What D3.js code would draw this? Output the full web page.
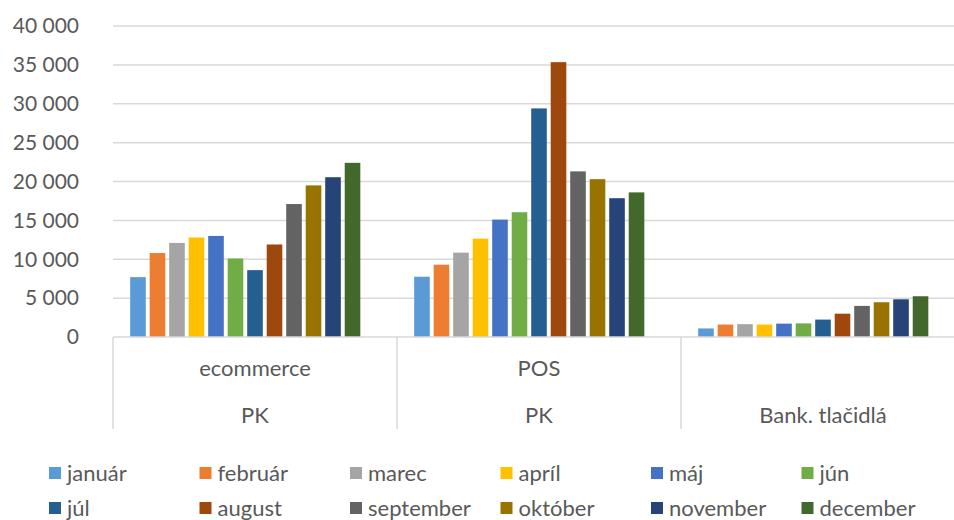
<!DOCTYPE html>
<meta charset="utf-8">
<style>
html, body { margin: 0; padding: 0; background: #fff; overflow: hidden; }
svg { display: block; }
text { font-family: Lato, "Open Sans", sans-serif; fill: #595959; }
</style>
<svg width="954" height="520"></svg>
<script src="https://cdn.jsdelivr.net/npm/d3@7"></script>
<script>
// data
var months = ["január", "február", "marec", "apríl", "máj", "jún",
              "júl", "august", "september", "október", "november", "december"];
var groups = ["ecommerce|PK", "POS|PK", "|Bank. tlačidlá"];
var groupTop = ["ecommerce", "POS", ""];
var groupBottom = ["PK", "PK", "Bank. tlačidlá"];
var ecommerce = [7700, 10800, 12100, 12800, 13000, 10100, 8600, 11900, 17100, 19500, 20550, 22400];
var pos = [7750, 9300, 10850, 12650, 15100, 16050, 29400, 35350, 21300, 20300, 17850, 18600];
var bank = [1100, 1600, 1650, 1600, 1720, 1750, 2240, 3000, 4000, 4470, 4850, 5240];
var colors = ["#5B9BD5", "#ED7D31", "#A5A5A5", "#FFC000", "#4472C4", "#70AD47",
              "#255E91", "#9E480E", "#636363", "#997300", "#264478", "#43682B"];
var yTicks = [0, 5000, 10000, 15000, 20000, 25000, 30000, 35000, 40000];

var series = [ecommerce, pos, bank];

var svg = d3.select("svg");
var plotL = 113, plotR = 965, plotT = 26, plotB = 337;

var x0 = d3.scaleBand().domain(groups).range([plotL, plotR]).padding(0);
// 13 slots per group, the last one stays empty
var x1 = d3.scaleBand().domain(months.concat([""])).range([0, x0.bandwidth()])
    .paddingInner(0.2).paddingOuter(0.88);
var y = d3.scaleLinear().domain([0, 40000]).range([plotB, plotT]);
var color = d3.scaleOrdinal().domain(months).range(colors);

var fmt = function(v) { return d3.format(",")(v).replace(/,/g, " "); };

// gridlines
svg.append("g")
    .selectAll("line")
    .data(yTicks.slice(1))
    .enter().append("line")
    .attr("x1", plotL).attr("x2", plotR)
    .attr("y1", function(d) { return y(d); })
    .attr("y2", function(d) { return y(d); })
    .attr("stroke", "#d9d9d9")
    .attr("stroke-width", 1.5);

// y labels
svg.append("g")
    .selectAll("text")
    .data(yTicks)
    .enter().append("text")
    .attr("x", 79)
    .attr("y", function(d) { return y(d); })
    .attr("dy", "0.35em")
    .attr("text-anchor", "end")
    .style("font-size", "21px")
    .text(fmt);

// bars
var g = svg.append("g")
    .selectAll("g")
    .data(series)
    .enter().append("g")
    .attr("transform", function(d, i) { return "translate(" + x0(groups[i]) + ",0)"; });

g.selectAll("rect")
    .data(function(d) { return d.map(function(v, j) { return {m: months[j], v: v}; }); })
    .enter().append("rect")
    .attr("x", function(d) { return x1(d.m); })
    .attr("width", x1.bandwidth())
    .attr("y", function(d) { return y(d.v); })
    .attr("height", function(d) { return plotB - y(d.v); })
    .attr("fill", function(d) { return color(d.m); });

// category axis
svg.append("line")
    .attr("x1", plotL).attr("x2", plotR)
    .attr("y1", plotB).attr("y2", plotB)
    .attr("stroke", "#d9d9d9").attr("stroke-width", 1.5);

var bounds = groups.map(function(d) { return x0(d); }).concat([plotR]);
svg.append("g")
    .selectAll("line")
    .data(bounds)
    .enter().append("line")
    .attr("x1", function(d) { return d; }).attr("x2", function(d) { return d; })
    .attr("y1", plotB).attr("y2", 429)
    .attr("stroke", "#d9d9d9").attr("stroke-width", 1.5);

svg.append("g")
    .selectAll("text")
    .data(groups)
    .enter().append("text")
    .attr("x", function(d) { return x0(d) + x0.bandwidth() / 2; })
    .attr("y", 368)
    .attr("dy", "0.35em")
    .attr("text-anchor", "middle")
    .style("font-size", "22px")
    .text(function(d, i) { return groupTop[i]; });

svg.append("g")
    .selectAll("text")
    .data(groups)
    .enter().append("text")
    .attr("x", function(d) { return x0(d) + x0.bandwidth() / 2; })
    .attr("y", 415)
    .attr("dy", "0.35em")
    .attr("text-anchor", "middle")
    .style("font-size", "22px")
    .text(function(d, i) { return groupBottom[i]; });

// legend
var legend = svg.append("g")
    .selectAll("g")
    .data(months)
    .enter().append("g")
    .attr("transform", function(d, i) {
        return "translate(" + (49 + (i % 6) * 150.5) + "," + (i < 6 ? 473 : 508) + ")";
    });

legend.append("rect")
    .attr("x", 0).attr("y", -6)
    .attr("width", 12).attr("height", 12)
    .attr("fill", function(d) { return color(d); });

legend.append("text")
    .attr("x", 18)
    .attr("dy", "0.35em")
    .style("font-size", "22px")
    .text(function(d) { return d; });
</script>
